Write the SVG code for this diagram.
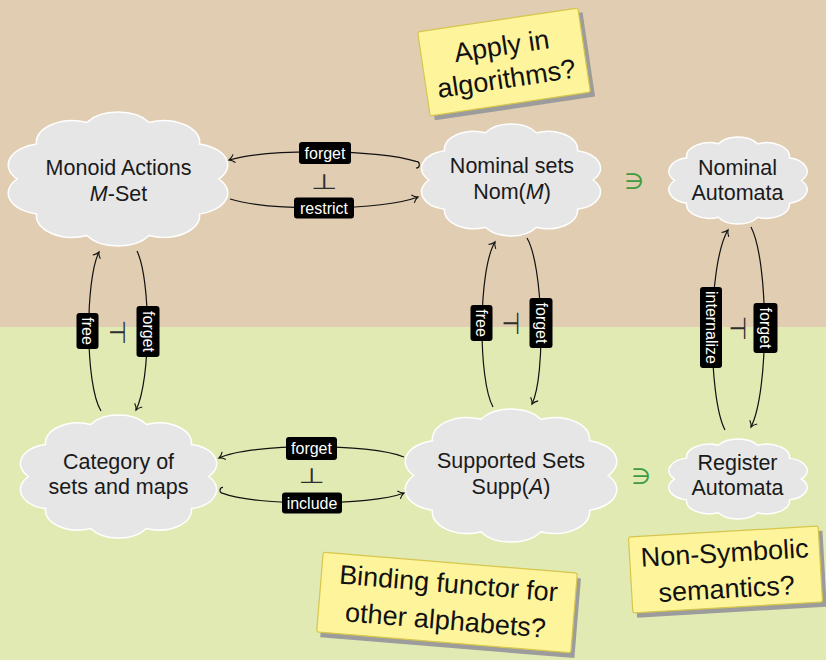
<svg xmlns="http://www.w3.org/2000/svg" width="826" height="660" viewBox="0 0 826 660">
  <style>
    .node text { font-family: "Liberation Sans", Arial, sans-serif; font-size: 21.5px; fill: #1a1a1a; text-anchor: middle; }
    .cloud { fill: #e6e6e6; stroke: #ffffff; stroke-width: 1.5; }
    .edge { fill: none; stroke: #111; stroke-width: 1.2; }
    .lbl rect { fill: #000; }
    .lbl text { font-family: "Liberation Sans", Arial, sans-serif; font-size: 16px; fill: #fff; text-anchor: middle; }
    .adj { font-family: "DejaVu Sans", sans-serif; font-size: 21px; fill: #2e2e2e; text-anchor: middle; }
    .elem { font-family: "DejaVu Sans", sans-serif; font-size: 22px; fill: #3f9b3f; text-anchor: middle; }
    .note rect.paper { fill: #fdf49b; stroke: #d6c64c; stroke-width: 1.2; }
    .note rect.shadow { fill: #9c9c9c; }
    .note text { font-family: "Liberation Sans", Arial, sans-serif; font-size: 27px; fill: #111; text-anchor: middle; }
  </style>
  <defs>
    <!-- unit cloud: ten puffs around the unit circle -->
    <path id="cloud" class="cloud" vector-effect="non-scaling-stroke"
      d="M1,0 A0.36,0.36 0 0 1 0.809,0.588 A0.36,0.36 0 0 1 0.309,0.951 A0.36,0.36 0 0 1 -0.309,0.951 A0.36,0.36 0 0 1 -0.809,0.588 A0.36,0.36 0 0 1 -1,0 A0.36,0.36 0 0 1 -0.809,-0.588 A0.36,0.36 0 0 1 -0.309,-0.951 A0.36,0.36 0 0 1 0.309,-0.951 A0.36,0.36 0 0 1 0.809,-0.588 A0.36,0.36 0 0 1 1,0 Z"/>
    <marker id="to" viewBox="-7 -5 9 10" markerWidth="9" markerHeight="10" refX="0" refY="0" orient="auto" markerUnits="userSpaceOnUse">
      <path d="M-5.5,-4.2 C-3.5,-1.6 -1.2,-0.4 0,0 C-1.2,0.4 -3.5,1.6 -5.5,4.2" fill="none" stroke="#111" stroke-width="1.1"/>
    </marker>
  </defs>

  <!-- backgrounds -->
  <rect x="0" y="0" width="826" height="327" fill="#e1cdb1"/>
  <rect x="0" y="327" width="826" height="333" fill="#e2eab4"/>

  <!-- nodes -->
  <g id="monoid" class="node">
    <use href="#cloud" transform="translate(118,179) scale(100.8,59.5)"/>
    <text x="118.5" y="175">Monoid Actions</text>
    <text x="118.5" y="201"><tspan font-style="italic">M</tspan>-Set</text>
  </g>
  <g id="nominal" class="node">
    <use href="#cloud" transform="translate(511,180) scale(82.2,49.7)"/>
    <text x="512" y="173">Nominal sets</text>
    <text x="512" y="199">Nom(<tspan font-style="italic">M</tspan>)</text>
  </g>
  <g id="nominal-automata" class="node">
    <use href="#cloud" transform="translate(738,180.5) scale(63.5,38.6)"/>
    <text x="737.5" y="175">Nominal</text>
    <text x="737.5" y="200">Automata</text>
  </g>
  <g id="sets" class="node">
    <use href="#cloud" transform="translate(118.5,476.5) scale(90.1,54.6)"/>
    <text x="118.5" y="469">Category of</text>
    <text x="118.5" y="494">sets and maps</text>
  </g>
  <g id="supported" class="node">
    <use href="#cloud" transform="translate(511,475.5) scale(97.1,59.1)"/>
    <text x="511" y="468">Supported Sets</text>
    <text x="511" y="494">Supp(<tspan font-style="italic">A</tspan>)</text>
  </g>
  <g id="register-automata" class="node">
    <use href="#cloud" transform="translate(738,479) scale(63.5,35.5)"/>
    <text x="737.5" y="470">Register</text>
    <text x="737.5" y="495">Automata</text>
  </g>

  <!-- connectors -->
  <g id="connectors">
    <!-- horizontal, top -->
    <path class="edge" d="M416,168 A3.3,3.3 0 0 0 416,161.4 C378,150 270,148 229,160" marker-end="url(#to)"/>
    <path class="edge" d="M230,199 C270,211 380,211 418,197" marker-end="url(#to)"/>
    <!-- horizontal, bottom -->
    <path class="edge" d="M404,457 C370,443 250,443 219,458" marker-end="url(#to)"/>
    <path class="edge" d="M223,487.4 A3,3 0 0 0 223,493.4 C255,506 370,506 404,493" marker-end="url(#to)"/>
    <!-- vertical, left -->
    <path class="edge" d="M101,411 C85,385 85,280 99,252" marker-end="url(#to)"/>
    <path class="edge" d="M137,251 C151,280 151,380 136,410" marker-end="url(#to)"/>
    <!-- vertical, middle -->
    <path class="edge" d="M493,407 C478,380 478,270 495,242" marker-end="url(#to)"/>
    <path class="edge" d="M527,238 C543,265 546,375 532,404" marker-end="url(#to)"/>
    <!-- vertical, right -->
    <path class="edge" d="M725,430 C708,398 707,265 728,230" marker-end="url(#to)"/>
    <path class="edge" d="M751,227 C769,262 769,392 751,427" marker-end="url(#to)"/>

    <!-- edge labels -->
    <g class="lbl"><rect x="299" y="142" width="52" height="22" rx="3"/><text x="325" y="158.5">forget</text></g>
    <g class="lbl"><rect x="294" y="197.5" width="60" height="21" rx="3"/><text x="324" y="213.5">restrict</text></g>
    <g class="lbl"><rect x="286" y="437" width="51" height="23" rx="3"/><text x="311.5" y="454">forget</text></g>
    <g class="lbl"><rect x="282" y="492.5" width="60" height="21" rx="3"/><text x="312" y="508.5">include</text></g>
    <g class="lbl" transform="translate(87.5,331) rotate(90)"><rect x="-18" y="-11" width="36" height="22" rx="3"/><text x="0" y="5.5">free</text></g>
    <g class="lbl" transform="translate(148,331.5) rotate(90)"><rect x="-25.5" y="-11.5" width="51" height="23" rx="3"/><text x="0" y="5.5">forget</text></g>
    <g class="lbl" transform="translate(481.5,323) rotate(90)"><rect x="-18" y="-11" width="36" height="22" rx="3"/><text x="0" y="5.5">free</text></g>
    <g class="lbl" transform="translate(541,323) rotate(90)"><rect x="-25" y="-11.5" width="50" height="23" rx="3"/><text x="0" y="5.5">forget</text></g>
    <g class="lbl" transform="translate(711,327.5) rotate(90)"><rect x="-40.5" y="-11" width="81" height="22" rx="3"/><text x="0" y="5.5">internalize</text></g>
    <g class="lbl" transform="translate(765.5,328) rotate(90)"><rect x="-25" y="-12" width="50" height="24" rx="3"/><text x="0" y="5.5">forget</text></g>

    <!-- adjunction marks -->
    <text class="adj" transform="translate(324,188.5) scale(1.45,1)">⊥</text>
    <text class="adj" transform="translate(311.5,483) scale(1.45,1)">⊥</text>
    <text class="adj" transform="translate(117.5,343.3) scale(1,1.45)">⊣</text>
    <text class="adj" transform="translate(511,334) scale(1,1.45)">⊣</text>
    <text class="adj" transform="translate(738,338.8) scale(1,1.45)">⊣</text>

    <!-- membership -->
    <text class="elem" x="634" y="189">∋</text>
    <text class="elem" x="641" y="484">∋</text>
  </g>

  <!-- sticky notes -->
  <g id="note-algorithms" class="note" transform="translate(504,62) rotate(-8.5)">
    <rect class="shadow" x="-77" y="-37.5" width="162" height="85"/>
    <rect class="paper" x="-81" y="-42.5" width="162" height="85" rx="2"/>
    <text x="0" y="-7">Apply in</text>
    <text x="0" y="26">algorithms?</text>
  </g>
  <g id="note-binding" class="note" transform="translate(447,602.5) rotate(4.7)">
    <rect class="shadow" x="-123.5" y="-35" width="255" height="80"/>
    <rect class="paper" x="-127.5" y="-40" width="255" height="80" rx="2"/>
    <text x="0" y="-10">Binding functor for</text>
    <text x="0" y="27">other alphabets?</text>
  </g>
  <g id="note-semantics" class="note" transform="translate(725.5,569.5) rotate(-3.3)">
    <rect class="shadow" x="-91" y="-33" width="190" height="76"/>
    <rect class="paper" x="-95" y="-38" width="190" height="76" rx="2"/>
    <text x="0" y="-7.5">Non-Symbolic</text>
    <text x="0" y="28.5">semantics?</text>
  </g>
</svg>
